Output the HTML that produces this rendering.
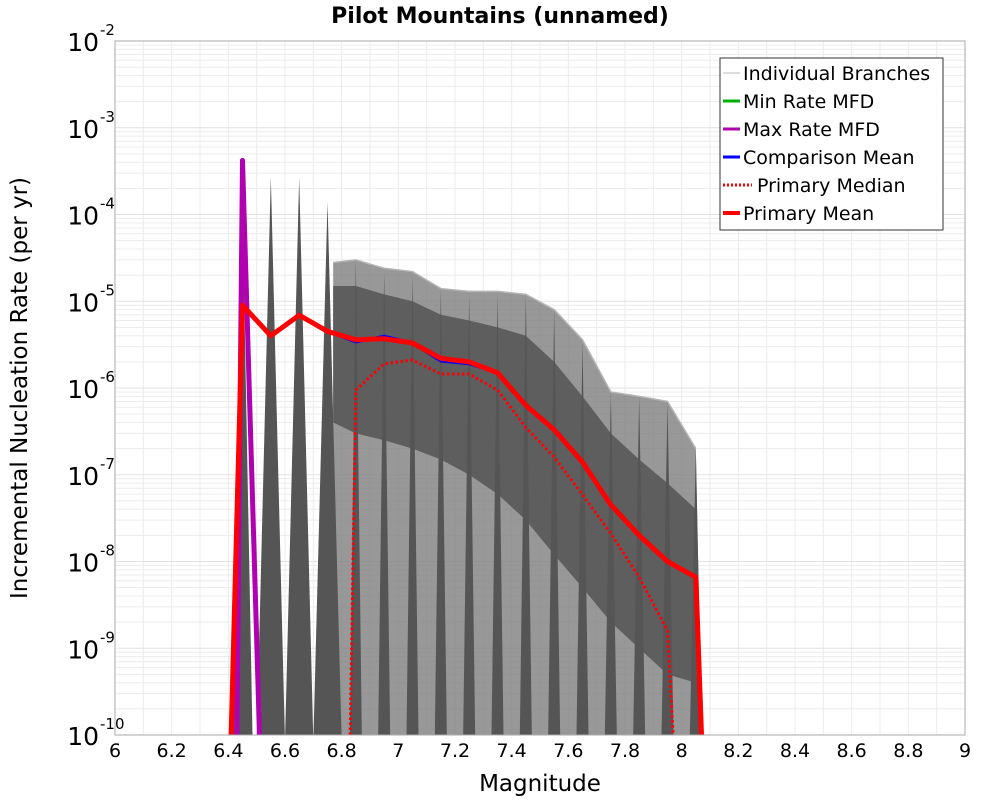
<!DOCTYPE html>
<html><head><meta charset="utf-8"><style>
body{margin:0;background:#fff;font-family:"Liberation Sans","DejaVu Sans",sans-serif}
svg text{font-family:"DejaVu Sans","Liberation Sans",sans-serif}
</style></head><body>
<svg id="c" width="1000" height="800" xmlns="http://www.w3.org/2000/svg">
<text x="500" y="23" text-anchor="middle" font-size="22" font-weight="bold">Pilot Mountains (unnamed)</text>
<g id="grid"></g>
<g id="branches"></g>
<g id="series"></g>
<rect x="115" y="41" width="850" height="694" fill="none" stroke="#aaa" stroke-width="1"/>
<g id="ticks"></g>
<text x="540" y="791" text-anchor="middle" font-size="23">Magnitude</text>
<text transform="translate(27,388) rotate(-90)" text-anchor="middle" font-size="23">Incremental Nucleation Rate (per yr)</text>
<g>
<rect x="720" y="58" width="223" height="172" fill="#fff" stroke="#333" stroke-width="1"/>
<g font-size="19">
<line x1="723" y1="73" x2="740" y2="73" stroke="#bbb" stroke-width="1"/>
<text x="743" y="80">Individual Branches</text>
<line x1="723" y1="101" x2="740" y2="101" stroke="#00b000" stroke-width="3"/>
<text x="743" y="108">Min Rate MFD</text>
<line x1="723" y1="129" x2="740" y2="129" stroke="#b000b0" stroke-width="3"/>
<text x="743" y="136">Max Rate MFD</text>
<line x1="723" y1="157" x2="740" y2="157" stroke="#0000ff" stroke-width="3"/>
<text x="743" y="164">Comparison Mean</text>
<line x1="723" y1="185" x2="752" y2="185" stroke="#f00" stroke-width="3" stroke-dasharray="2,2"/>
<text x="757" y="192">Primary Median</text>
<line x1="723" y1="213" x2="740" y2="213" stroke="#f00" stroke-width="4"/>
<text x="743" y="220">Primary Mean</text>
</g></g>
</svg>
<script>
const xTicks=[6,6.2,6.4,6.6,6.8,7,7.2,7.4,7.6,7.8,8,8.2,8.4,8.6,8.8,9];
const yExps=[-2,-3,-4,-5,-6,-7,-8,-9,-10];
const meanM=[6.41,6.45,6.55,6.65,6.75,6.85,6.95,7.05,7.15,7.25,7.35,7.45,7.55,7.65,7.75,7.85,7.95,8.05,8.07];
const meanV=[1e-10,9e-6,4e-6,6.9e-6,4.5e-6,3.6e-6,3.7e-6,3.3e-6,2.2e-6,2e-6,1.5e-6,6.3e-7,3.3e-7,1.4e-7,4.5e-8,2e-8,1e-8,6.6e-9,1e-10];
const compV=[1e-10,9e-6,4e-6,7.1e-6,4.5e-6,3.4e-6,3.95e-6,3.3e-6,2.05e-6,1.9e-6,1.5e-6,6.3e-7,3.3e-7,1.4e-7,4.5e-8,2e-8,1e-8,6.6e-9,1e-10];
const medM=[6.83,6.85,6.95,7.05,7.15,7.25,7.35,7.45,7.55,7.65,7.75,7.85,7.95,7.97];
const medV=[1e-10,9.5e-7,1.9e-6,2.1e-6,1.45e-6,1.45e-6,9.5e-7,3.5e-7,1.6e-7,5.9e-8,2.1e-8,6.6e-9,1.6e-9,1e-10];
const maxM=[6.43,6.45,6.51];
const maxV=[1e-10,4.2e-4,1e-10];
const spikeM=[6.45,6.55,6.65,6.75,6.85,6.95,7.05,7.15,7.25,7.35,7.45,7.55,7.65,7.75,7.85,7.95,8.05];
const spikeV=[1.2e-4,2.7e-4,2.7e-4,1.4e-4,3e-5,2.2e-5,2e-5,1.4e-5,1.2e-5,1.2e-5,1.2e-5,8e-6,3.5e-6,9e-7,8e-7,7e-7,2e-7];
const envM=[6.77,6.85,6.95,7.05,7.15,7.25,7.35,7.45,7.55,7.65,7.75,7.85,7.95,8.05];
const envV=[2.8e-5,3e-5,2.4e-5,2.2e-5,1.4e-5,1.3e-5,1.3e-5,1.2e-5,8e-6,3.6e-6,9e-7,8e-7,7e-7,2e-7];
const denseV=[1.5e-5,1.5e-5,1.2e-5,1e-5,7e-6,6e-6,5e-6,4e-6,2e-6,8e-7,3e-7,1.5e-7,8e-8,4e-8];
const denseLowV=[4e-7,3e-7,2.5e-7,2e-7,1.5e-7,1e-7,6e-8,3e-8,1.2e-8,5e-9,2e-9,1e-9,5e-10,4e-10];

const NS='http://www.w3.org/2000/svg';
const X=m=>115+(m-6)*850/3;
const Y=v=>41+(-2-Math.log10(v))*86.75;
function mk(p,t,a){const e=document.createElementNS(NS,t);for(const k in a)e.setAttribute(k,a[k]);p.appendChild(e);return e;}
const grid=document.getElementById('grid'),ticks=document.getElementById('ticks');
for(let m=6;m<=9.001;m+=0.1){const l=mk(grid,'line',{x1:X(m),x2:X(m),y1:41,y2:735,stroke:'#ececec','stroke-width':1});

}
for(let e=-10;e<-2;e++){for(let k=1;k<10;k++){const v=k*Math.pow(10,e);const l=mk(grid,'line',{x1:115,x2:965,y1:Y(v),y2:Y(v),stroke:k==1?'#e2e2e2':'#ececec','stroke-width':1});

}}
xTicks.forEach(t=>{const tx=mk(ticks,'text',{x:X(t),y:757,'text-anchor':'middle','font-size':19});tx.textContent=String(t);

});
yExps.forEach(e=>{const tx=mk(ticks,'text',{x:99,y:Y(Math.pow(10,e))+10,'text-anchor':'end','font-size':25});tx.textContent='10';


const s=mk(ticks,'text',{x:100,y:Y(Math.pow(10,e))-6,'font-size':15});s.textContent=String(e);

});
const br=document.getElementById('branches');
const bottom=1e-10;
function band(up,low,fill,op,name){let d='M'+X(envM[0])+','+Y(up[0]);for(let i=1;i<envM.length;i++)d+='L'+X(envM[i])+','+Y(up[i]);
d+='L'+X(8.07)+','+Y(low?low[low.length-1]:bottom);
for(let i=envM.length-1;i>=0;i--)d+='L'+X(envM[i])+','+Y(low?low[i]:bottom);d+='Z';
const p=mk(br,'path',{d:d,fill:fill,'fill-opacity':op});

}
band(envV,null,'#7e7e7e',0.8,'branch-envelope');
band(denseV,denseLowV,'#585858',0.9,'branch-dense-band');
let d2='M'+X(envM[0])+','+Y(envV[0]);for(let i=1;i<envM.length;i++)d2+='L'+X(envM[i])+','+Y(envV[i]);
const env=mk(br,'path',{d:d2,fill:'none',stroke:'#b5b5b5','stroke-width':1.5});


spikeM.forEach((m,i)=>{const w=i==0?10:(i<4?14:6);const d='M'+(X(m)-w)+',735L'+X(m)+','+Y(spikeV[i])+'L'+(X(m)+w)+',735Z';
const p=mk(br,'path',{d:d,fill:'#555'});

});
const ser=document.getElementById('series');
function line(ms,vs,col,w,dash,name){const pts=ms.map((m,i)=>X(m)+','+Y(vs[i])).join(' ');
const a={points:pts,fill:'none',stroke:col,'stroke-width':w,'stroke-linejoin':'round'};if(dash)a['stroke-dasharray']=dash;
const p=mk(ser,'polyline',a);

}
line(maxM,maxV,'#b000b0',5,null,'max-rate-mfd-line');
line(meanM,compV,'#0000ff',3,null,'comparison-mean-line');
line(medM,medV,'#f00',3,'2.5,2.5','primary-median-line');
line(meanM,meanV,'#f00',5,null,'primary-mean-line');
</script>
</body></html>
